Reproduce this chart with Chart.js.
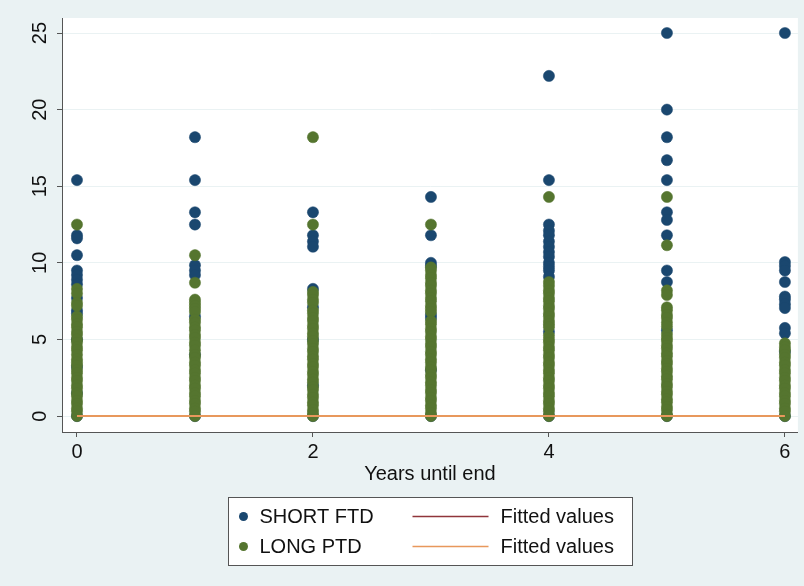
<!doctype html>
<html lang="en">
<head>
  <meta charset="utf-8">
  <title>Years until end</title>
  <style>
    body { margin: 0; background: rgb(234, 242, 243); }
    #chart { display: block; }
  </style>
</head>
<body>
  <canvas id="chart" width="804" height="586"></canvas>

  <script src="https://cdn.jsdelivr.net/npm/chart.js@4.4.1/dist/chart.umd.min.js"></script>
  <script>
  // x positions of the columns
  const years = [0, 1, 2, 3, 4, 5, 6];

  // SHORT FTD values, one list per year
  const short0 = [15.4, 11.8, 11.6, 10.5, 9.5, 9.2, 8.9, 8.6, 7.7, 6.9, 6.7, 5.0, 3.2, 1.5, 0];
  const short1 = [18.2, 15.4, 13.3, 12.5, 9.85, 9.5, 9.2, 6.5, 4.0, 0];
  const short2 = [13.3, 11.8, 11.4, 11.05, 8.3, 7.1, 5.0, 2.0, 0];
  const short3 = [14.3, 11.8, 10.0, 9.8, 6.6, 6.4, 3.0, 0];
  const short4 = [22.2, 15.4, 12.5, 12.1, 11.8, 11.4, 11.05, 10.7, 10.4, 10.0, 9.75, 9.5, 9.1, 5.5, 0];
  const short5 = [25, 20, 18.2, 16.7, 15.4, 13.3, 12.8, 11.8, 9.5, 8.75, 5.6, 0];
  const short6 = [25, 10.05, 9.8, 9.5, 8.75, 7.8, 7.6, 7.3, 7.05, 5.75, 5.4, 4.2, 0];

  // LONG PTD values, one list per year
  const long0 = [12.5, 8.3, 8.0, 7.4, 7.2, 6.5, 6.3, 6.0, 5.8, 5.5, 5.3, 5.0, 4.8, 4.5, 4.3, 4.0, 3.7, 3.5, 3.3, 3.0, 2.8, 2.5, 2.3, 2.0, 1.8, 1.5, 1.3, 1.0, 0.8, 0.5, 0.3, 0];
  const long1 = [10.5, 8.7, 7.6, 7.4, 7.2, 7.0, 6.8, 6.3, 6.1, 5.8, 5.6, 5.3, 5.1, 4.8, 4.6, 4.3, 4.0, 3.8, 3.5, 3.3, 3.0, 2.8, 2.5, 2.3, 2.0, 1.8, 1.5, 1.3, 1.0, 0.8, 0.5, 0.3, 0];
  const long2 = [18.2, 12.5, 8.1, 7.9, 7.6, 7.4, 6.9, 6.7, 6.4, 6.2, 5.9, 5.7, 5.4, 5.2, 4.9, 4.7, 4.4, 4.2, 3.9, 3.7, 3.4, 3.2, 2.9, 2.7, 2.4, 2.2, 1.9, 1.7, 1.4, 1.2, 0.9, 0.7, 0.4, 0.2, 0];
  const long3 = [12.5, 9.7, 9.5, 9.2, 9.0, 8.7, 8.5, 8.2, 8.0, 7.7, 7.5, 7.2, 7.0, 6.8, 6.2, 6.0, 5.7, 5.5, 5.2, 5.0, 4.7, 4.5, 4.2, 4.0, 3.7, 3.5, 3.2, 3.0, 2.7, 2.5, 2.2, 2.0, 1.7, 1.5, 1.2, 1.0, 0.7, 0.5, 0.2, 0];
  const long4 = [14.3, 8.75, 8.5, 8.2, 8.0, 7.7, 7.5, 7.2, 7.0, 6.7, 6.5, 6.2, 6.0, 5.8, 5.25, 5.0, 4.8, 4.5, 4.3, 4.0, 3.8, 3.5, 3.3, 3.0, 2.8, 2.5, 2.3, 2.0, 1.8, 1.5, 1.3, 1.0, 0.8, 0.5, 0.3, 0];
  const long5 = [14.3, 11.15, 8.2, 7.9, 7.1, 6.9, 6.6, 6.4, 6.1, 5.85, 5.35, 5.1, 4.9, 4.6, 4.4, 4.1, 3.9, 3.6, 3.4, 3.1, 2.9, 2.6, 2.4, 2.1, 1.9, 1.6, 1.4, 1.1, 0.9, 0.6, 0.4, 0.1, 0];
  const long6 = [4.75, 4.5, 4.3, 4.0, 3.8, 3.5, 3.3, 3.0, 2.8, 2.5, 2.3, 2.0, 1.8, 1.5, 1.3, 1.0, 0.8, 0.5, 0.3, 0];

  // fitted lines
  const fitX = [0, 6];
  const fitShort = [0, 0];
  const fitLong = [0, 0];

  const xTicks = [0, 2, 4, 6];
  const yTicks = [0, 5, 10, 15, 20, 25];

  const shortCols = [short0, short1, short2, short3, short4, short5, short6];
  const longCols = [long0, long1, long2, long3, long4, long5, long6];

  const navy = 'rgb(26, 71, 111)';
  const green = 'rgb(85, 117, 47)';
  const maroon = 'rgb(144, 53, 59)';
  const orange = 'rgb(232, 152, 92)';
  const font = '"Liberation Sans", Arial, sans-serif';

  function toPoints(cols) {
    let pts = [];
    cols.forEach((col, i) => col.forEach(v => pts.push({ x: years[i], y: v })));
    return pts;
  }

  function linePoints(ys) {
    return fitX.map((x, i) => ({ x: x, y: ys[i] }));
  }

  const background = {
    id: 'background',
    beforeDraw(chart) {
      let ctx = chart.ctx;
      let a = chart.chartArea;
      ctx.save();
      ctx.fillStyle = 'rgb(234, 242, 243)';
      ctx.fillRect(0, 0, chart.width, chart.height);
      ctx.fillStyle = '#ffffff';
      ctx.fillRect(a.left, a.top, a.right - a.left, a.bottom - a.top);
      ctx.restore();
    }
  };

  const boxLegend = {
    id: 'boxLegend',
    afterDraw(chart) {
      let ctx = chart.ctx;
      let a = chart.chartArea;
      let w = 404, h = 68;
      let left = Math.round((a.left + a.right) / 2 - w / 2) + 0.5;
      let top = 497.5;
      let rows = [
        { label: 'SHORT FTD', dot: navy, line: maroon, y: top + 19 },
        { label: 'LONG PTD', dot: green, line: orange, y: top + 49 },
      ];
      ctx.save();
      ctx.fillStyle = '#ffffff';
      ctx.fillRect(left, top, w, h);
      ctx.strokeStyle = '#555555';
      ctx.lineWidth = 1;
      ctx.strokeRect(left, top, w, h);
      ctx.font = '20px ' + font;
      ctx.textBaseline = 'middle';
      rows.forEach(r => {
        ctx.fillStyle = r.dot;
        ctx.beginPath();
        ctx.arc(left + 15, r.y, 4.5, 0, Math.PI * 2);
        ctx.fill();
        ctx.fillStyle = '#111111';
        ctx.fillText(r.label, left + 31, r.y + 1);
        ctx.strokeStyle = r.line;
        ctx.lineWidth = 1.5;
        ctx.beginPath();
        ctx.moveTo(left + 184, r.y);
        ctx.lineTo(left + 260, r.y);
        ctx.stroke();
        ctx.fillStyle = '#111111';
        ctx.fillText('Fitted values', left + 272, r.y + 1);
      });
      ctx.restore();
    }
  };

  function plot(canvas) {
    let ctx = canvas.getContext('2d');

    new Chart(ctx, {
      type: 'scatter',
      data: {
        datasets: [
          {
            label: 'Fitted values',
            type: 'line',
            data: linePoints(fitLong),
            borderColor: orange,
            borderWidth: 2,
            pointRadius: 0,
            order: 0,
          },
          {
            label: 'Fitted values',
            type: 'line',
            data: linePoints(fitShort),
            borderColor: maroon,
            borderWidth: 2,
            pointRadius: 0,
            order: 1,
          },
          {
            label: 'LONG PTD',
            data: toPoints(longCols),
            backgroundColor: green,
            borderColor: green,
            borderWidth: 0.5,
            pointRadius: 5.6,
            order: 2,
          },
          {
            label: 'SHORT FTD',
            data: toPoints(shortCols),
            backgroundColor: navy,
            borderColor: navy,
            borderWidth: 0.5,
            pointRadius: 5.6,
            order: 3,
          },
        ],
      },
      options: {
        responsive: false,
        animation: false,
        layout: {
          padding: { left: 27, right: 6, top: 18, bottom: 102 },
        },
        plugins: {
          legend: { display: false },
          tooltip: { enabled: false },
        },
        scales: {
          x: {
            type: 'linear',
            min: -0.127,
            max: 6.11,
            afterBuildTicks: axis => { axis.ticks = xTicks.map(v => ({ value: v })); },
            grid: {
              color: 'rgba(0,0,0,0)',
              tickColor: '#555555',
              tickLength: 5,
            },
            border: { display: true, color: '#555555', width: 1 },
            ticks: {
              color: '#111111',
              padding: 5,
              font: { family: font, size: 20, lineHeight: 1 },
            },
            title: {
              display: true,
              text: 'Years until end',
              color: '#111111',
              padding: { top: -3, bottom: 0 },
              font: { family: font, size: 20, lineHeight: 1 },
            },
          },
          y: {
            type: 'linear',
            min: -1.04,
            max: 25.98,
            afterBuildTicks: axis => { axis.ticks = yTicks.map(v => ({ value: v })); },
            grid: {
              color: 'rgb(234, 242, 243)',
              tickColor: '#555555',
              tickLength: 5,
            },
            border: { display: true, color: '#555555', width: 1 },
            ticks: {
              color: '#111111',
              padding: 5,
              minRotation: 90,
              maxRotation: 90,
              crossAlign: 'center',
              font: { family: font, size: 20, lineHeight: 1 },
            },
          },
        },
      },
      plugins: [background, boxLegend],
    });
  }

  plot(document.getElementById('chart'));
  </script>
</body>
</html>
